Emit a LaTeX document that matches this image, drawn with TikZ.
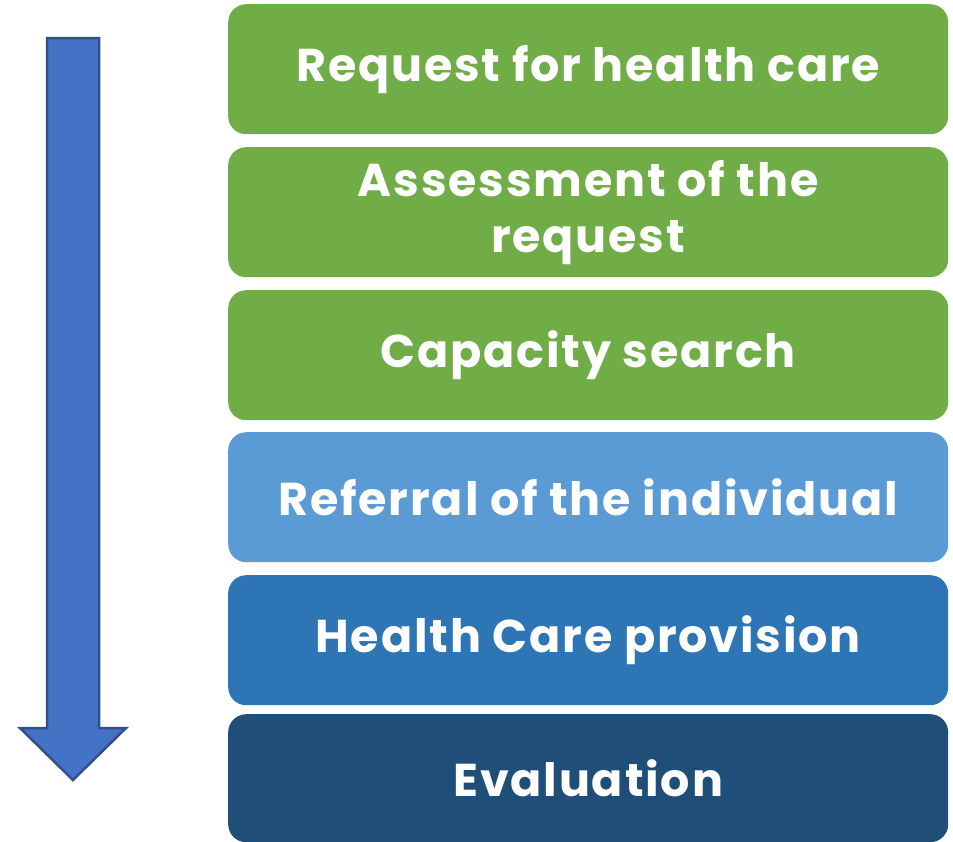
\documentclass[tikz,border=0pt]{standalone}
\usepackage{fontspec}
\setmainfont{Poppins}[LetterSpace=4]
\definecolor{cgreen}{HTML}{70AD47}
\definecolor{clight}{HTML}{5B9BD5}
\definecolor{cmid}{HTML}{2E75B6}
\definecolor{cdark}{HTML}{1F4E79}
\definecolor{carrow}{HTML}{4472C4}
\definecolor{carrowb}{HTML}{2F528F}
\begin{document}
\begin{tikzpicture}[x=1pt,y=-1pt,
  stepbox/.style={rounded corners=18pt, minimum width=720pt, anchor=north west, inner sep=0pt, text=white, font=\bfseries\fontsize{46}{56}\selectfont, align=center}]
\useasboundingbox (0,0) rectangle (953,841);
\node[stepbox, fill=cgreen, minimum height=130pt] (b1) at (228,4) {Request for health care};
\node[stepbox, fill=cgreen, minimum height=130pt] (b2) at (228,147) {Assessment of the\\request};
\node[stepbox, fill=cgreen, minimum height=130pt] (b3) at (228,290) {Capacity search};
\node[stepbox, fill=clight, minimum height=130pt] (b4) at (228,432) {Referral of the individual};
\node[stepbox, fill=cmid, minimum height=130pt] (b5) at (228,575) {Health Care provision};
\node[stepbox, fill=cdark, minimum height=128pt] (b6) at (228,714) {Evaluation};
\draw[fill=carrow, draw=carrowb, line width=2.5pt, line join=miter]
  (47,38) -- (99,38) -- (99,728) -- (126,728) -- (73,780) -- (20,728) -- (47,728) -- cycle;
\end{tikzpicture}
\end{document}
